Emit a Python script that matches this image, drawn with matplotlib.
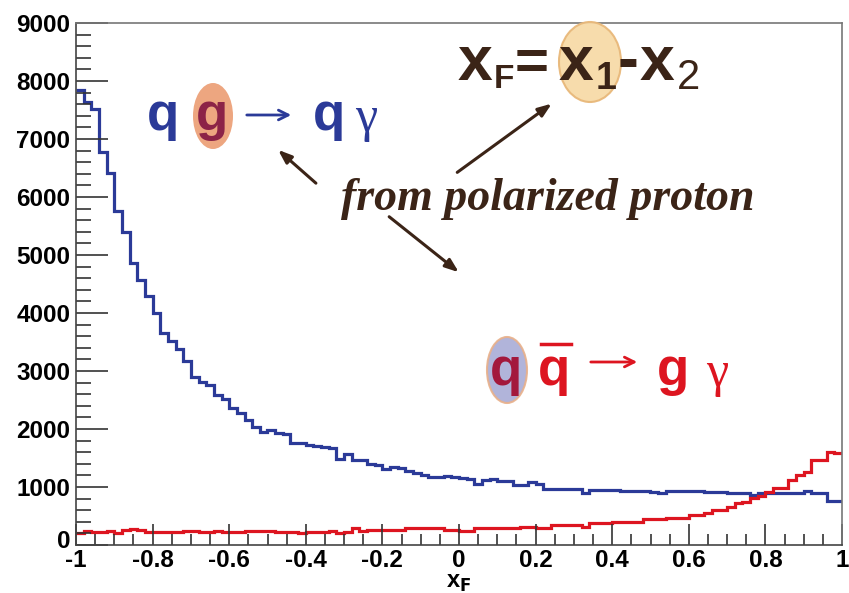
import numpy as np
import matplotlib
matplotlib.use("Agg")
import matplotlib.pyplot as plt
import matplotlib.transforms as mtransforms
from matplotlib.patches import Ellipse

# ---------------- data ----------------
edges = np.linspace(-1, 1, 101)
qg_counts = [7845, 7643, 7517, 6781, 6419, 5759, 5402, 4867, 4569, 4293,
             3994, 3649, 3517, 3374, 3172, 2891, 2816, 2759, 2586, 2512,
             2357, 2270, 2155, 2040, 1954, 1983, 1925, 1914, 1753, 1753,
             1724, 1707, 1690, 1667, 1477, 1569, 1466, 1460, 1400, 1379,
             1305, 1350, 1322, 1282, 1250, 1207, 1178, 1178, 1185, 1180,
             1150, 1135, 1058, 1121, 1130, 1100, 1100, 1034, 1034, 1085,
             1045, 970, 970, 960, 960, 960, 902, 948, 948, 948,
             948, 937, 937, 937, 937, 920, 891, 937, 937, 937,
             937, 937, 920, 920, 920, 891, 891, 891, 862, 902,
             902, 902, 902, 902, 902, 937, 902, 902, 764, 764]
qqbar_counts = [215, 247, 230, 230, 240, 201, 259, 270, 265, 230,
                218, 218, 218, 218, 247, 240, 218, 218, 241, 218,
                218, 218, 247, 247, 247, 247, 230, 230, 230, 201,
                218, 218, 218, 247, 201, 218, 287, 241, 259, 259,
                259, 259, 259, 287, 287, 287, 287, 287, 259, 259,
                250, 241, 287, 287, 287, 287, 287, 300, 316, 316,
                300, 287, 345, 345, 345, 345, 316, 374, 374, 374,
                402, 402, 402, 402, 443, 443, 443, 471, 471, 471,
                517, 517, 557, 603, 603, 661, 718, 747, 805, 845,
                920, 977, 977, 1121, 1207, 1264, 1466, 1466, 1609, 1580]
xticks = [-1, -0.8, -0.6, -0.4, -0.2, 0, 0.2, 0.4, 0.6, 0.8, 1]
xtick_labels = ["-1", "-0.8", "-0.6", "-0.4", "-0.2", "0", "0.2", "0.4", "0.6", "0.8", "1"]
yticks = [0, 1000, 2000, 3000, 4000, 5000, 6000, 7000, 8000, 9000]

BLUE = "#2b3a98"
RED = "#dd1520"
BROWN = "#3b2417"

W, H = 849, 593
fig = plt.figure(figsize=(W / 100, H / 100), dpi=100)
fig.patch.set_facecolor("white")

def P(x, y):
    return (x / W, 1 - y / H)

ax = fig.add_axes([76 / W, 1 - 545 / H, (842 - 76) / W, (545 - 23) / H])
ax.stairs(qg_counts, edges, color=BLUE, lw=2.3, baseline=None)
ax.stairs(qqbar_counts, edges, color=RED, lw=2.3, baseline=None)
ax.set_xlim(-1, 1)
ax.set_ylim(0, 9000)

lab_font = dict(family="Liberation Sans", weight="bold", size=17.5)
ax.set_xticks(xticks)
ax.set_xticklabels(xtick_labels, **lab_font)
ax.set_yticks(yticks)
ax.set_yticklabels([str(v) for v in yticks], **lab_font)
ax.set_xticks(np.arange(-1, 1.0001, 0.05), minor=True)
ax.set_yticks(np.arange(0, 9001, 200), minor=True)
ax.tick_params(axis="y", which="major", direction="in", length=23, width=1.2, pad=4, color="#333")
ax.tick_params(axis="y", which="minor", direction="in", length=11, width=1.2, color="#333")
ax.tick_params(axis="x", which="major", direction="in", length=15, width=1.2, pad=3, color="#333")
ax.tick_params(axis="x", which="minor", direction="in", length=8, width=1.2, color="#333")
for s in ax.spines.values():
    s.set_color("#444")
    s.set_linewidth(1.2)
ax.spines["top"].set_color("#777")
ax.spines["right"].set_color("#777")
ax.set_xlabel(r"x$_\mathbf{F}$", fontfamily="Liberation Sans", fontweight="bold", fontsize=17, labelpad=-1)

# nudge the "0" y label up a little so it does not touch "-1"
ylab0 = ax.get_yticklabels()[0]
ylab0.set_transform(ylab0.get_transform() + mtransforms.ScaledTranslation(0, 6 / 100, fig.dpi_scale_trans))

# ---------------- annotations ----------------
bold_sans = dict(family="Liberation Sans", weight="bold")
# q g -> q gamma (blue)
fig.patches.append(Ellipse(P(213, 116), 40 / W, 66 / H, transform=fig.transFigure,
                           facecolor="#eb9c72", edgecolor="none", alpha=0.9))
fig.text(*P(147, 130), "q", color=BLUE, fontsize=38, **bold_sans)
fig.text(*P(196, 130), "g", color="#8c2347", fontsize=38, **bold_sans)
ax.annotate("", xy=P(294, 115), xytext=P(244, 115), xycoords="figure fraction",
            textcoords="figure fraction",
            arrowprops=dict(arrowstyle="->,head_length=0.7,head_width=0.35", color=BLUE, lw=2))
fig.text(*P(313, 130), "q", color=BLUE, fontsize=38, **bold_sans)
fig.text(*P(355, 131), "γ", color=BLUE, fontsize=36, family="Liberation Serif")

# x_F = x_1 - x_2
fig.patches.append(Ellipse(P(590, 62), 62 / W, 80 / H, transform=fig.transFigure,
                           facecolor="#f7dba8", edgecolor="#e8b87a", lw=1.5, alpha=0.95))
fig.text(*P(458, 80), "x", color=BROWN, fontsize=45, **bold_sans)
fig.text(*P(494, 88), "F", color=BROWN, fontsize=24, **bold_sans)
fig.text(*P(515, 80), "=", color=BROWN, fontsize=42, **bold_sans)
fig.text(*P(559, 80), "x", color=BROWN, fontsize=45, **bold_sans)
fig.text(*P(596, 89), "1", color=BROWN, fontsize=27, **bold_sans)
fig.text(*P(617, 80), "-", color=BROWN, fontsize=45, **bold_sans)
fig.text(*P(640, 80), "x", color=BROWN, fontsize=45, **bold_sans)
fig.text(*P(677, 89), "2", color=BROWN, fontsize=30, family="Liberation Sans")

# from polarized proton
fig.text(*P(548, 210), "from polarized proton", color=BROWN, fontsize=33,
         family="Liberation Serif", weight="bold", style="italic", ha="center")
arrow_kw = dict(arrowstyle="-|>,head_length=0.8,head_width=0.3", color=BROWN, lw=2.2)
for start, end in [((318, 185), (276, 148)), ((455, 174), (554, 102)), ((387, 215), (461, 274))]:
    ax.annotate("", xy=P(*end), xytext=P(*start), xycoords="figure fraction",
                textcoords="figure fraction", arrowprops=arrow_kw)

# q qbar -> g gamma (red)
fig.patches.append(Ellipse(P(507, 370), 40 / W, 66 / H, transform=fig.transFigure,
                           facecolor="#a9acd6", edgecolor="#e8b08a", lw=1.5, alpha=0.9))
fig.text(*P(490, 385), "q", color="#a3183c", fontsize=38, **bold_sans)
fig.text(*P(538, 385), "q", color=RED, fontsize=38, **bold_sans)
fig.add_artist(plt.Line2D([541 / W, 571 / W], [1 - 344 / H, 1 - 344 / H], color=RED, lw=2.5,
                          transform=fig.transFigure))
ax.annotate("", xy=P(640, 362), xytext=P(588, 362), xycoords="figure fraction",
            textcoords="figure fraction",
            arrowprops=dict(arrowstyle="->,head_length=0.7,head_width=0.35", color=RED, lw=2))
fig.text(*P(657, 385), "g", color=RED, fontsize=38, **bold_sans)
fig.text(*P(706, 386), "γ", color=RED, fontsize=36, family="Liberation Serif")

fig.savefig("out.png", dpi=100)
